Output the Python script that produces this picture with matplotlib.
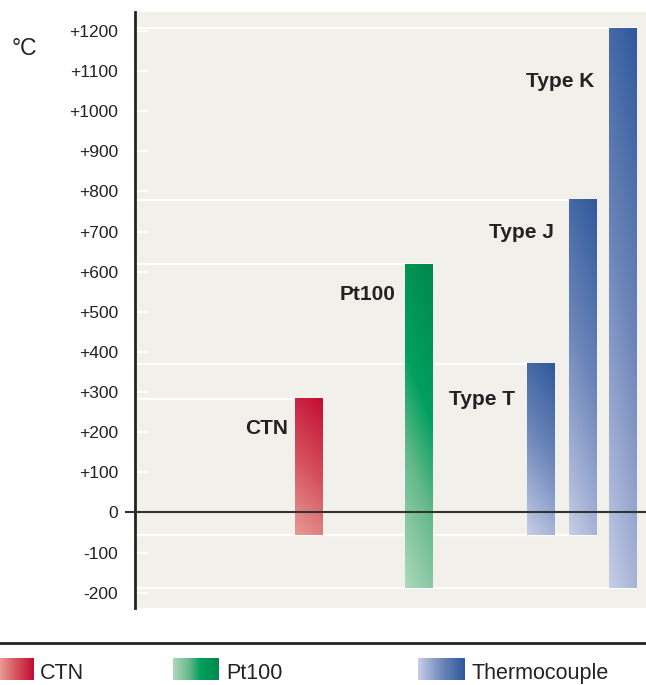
import numpy as np
import matplotlib
matplotlib.use('Agg')
import matplotlib.pyplot as plt
from matplotlib.colors import LinearSegmentedColormap
from matplotlib.lines import Line2D

plt.rcParams['font.family'] = ['Liberation Sans', 'DejaVu Sans']

# data (deg C)
sensors = ['CTN', 'Pt100', 'Type T', 'Type J', 'Type K']
families = ['CTN', 'Pt100', 'Thermocouple', 'Thermocouple', 'Thermocouple']
t_min = [-57, -187, -57, -57, -187]
t_max = [282, 619, 371, 778, 1207]
tick_values = [-200, -100, 0, 100, 200, 300, 400, 500, 600, 700, 800, 900, 1000, 1100, 1200]
legend_labels = ['CTN', 'Pt100', 'Thermocouple']

# layout
xpos = [3.39, 5.55, 7.94, 8.76, 9.54]
bar_w = 0.53
label_x = [2.99, 5.09, 7.44, 8.20, 8.98]
label_y = [195, 530, 268, 683, 1060]

cmaps = {
  'CTN': LinearSegmentedColormap.from_list('ctn', ['#e89a94', '#d4505c', '#c40c34']),
  'Pt100': LinearSegmentedColormap.from_list('pt', [(0, '#acd8bc'), (0.35, '#66b98a'),
                                                    (0.6, '#00a060'), (1, '#00894a')]),
  'Thermocouple': LinearSegmentedColormap.from_list('tc', ['#c6cde7', '#7088bb', '#2f599c']),
}

def tick_text(v):
  if v > 0:
    return '+%d' % v
  return '%d' % v

fig = plt.figure(figsize=(6.46, 6.85), dpi=100)
ax = fig.add_axes([135/646, 1 - 608/685, 511/646, 596/685])
ax.set_facecolor('#f1f0ea')

# gradient: dark at top right, light at bottom left
v = np.linspace(0, 1, 200)[:, None]
h = np.linspace(0, 1, 20)[None, :]
grad = np.clip(0.82*v + 0.18*h, 0, 1)

for i, name in enumerate(sensors):
  x0 = xpos[i] - bar_w/2
  x1 = xpos[i] + bar_w/2
  # white guide lines from the axis to the bar
  ax.plot([0, x1], [t_max[i], t_max[i]], color='white', lw=1.6, zorder=1, solid_capstyle='butt')
  ax.plot([0, x1], [t_min[i], t_min[i]], color='white', lw=1.6, zorder=1, solid_capstyle='butt')
  ax.imshow(grad, cmap=cmaps[families[i]], origin='lower', aspect='auto',
            extent=(x0, x1, t_min[i], t_max[i]), zorder=2, interpolation='bilinear')
  ax.text(label_x[i], label_y[i], name, ha='right', va='baseline',
          fontsize=15, fontweight='bold', color='#222222')

ax.axhline(0, xmin=-0.018, xmax=1, color='#333333', lw=1.5, zorder=3, clip_on=False)

ax.set_xlim(0, 10)
ax.set_ylim(-238, 1247)
ax.set_xticks([])
ax.set_yticks(tick_values)
ax.set_yticklabels([tick_text(t) for t in tick_values], fontsize=12.5, color='#222222')
ax.tick_params(axis='y', direction='in', length=9, width=1.4, color='white', pad=12)
for s in ['top', 'right', 'bottom']:
  ax.spines[s].set_visible(False)
ax.spines['left'].set_linewidth(2)
ax.spines['left'].set_color('#222222')

fig.text(12/646, 1 - 55/685, '°C', fontsize=16.5, color='#222222', va='baseline')

# legend below the rule
fig.add_artist(Line2D([0, 1], [1 - 643/685]*2, transform=fig.transFigure, color='#222222', lw=2))
sw_x = [0, 173, 418]
sw_w = [34, 46, 46]
txt_x = [40, 226, 471]
hgrad = np.linspace(0, 1, 50)[None, :]
for i, lab in enumerate(legend_labels):
  sax = fig.add_axes([sw_x[i]/646, 1 - 680/685, sw_w[i]/646, 22/685])
  sax.imshow(hgrad, cmap=cmaps[lab], aspect='auto', interpolation='bilinear')
  sax.axis('off')
  fig.text(txt_x[i]/646, 1 - 679/685, lab, fontsize=15.5, color='#222222', va='baseline')

plt.savefig('out.png', dpi=100)
